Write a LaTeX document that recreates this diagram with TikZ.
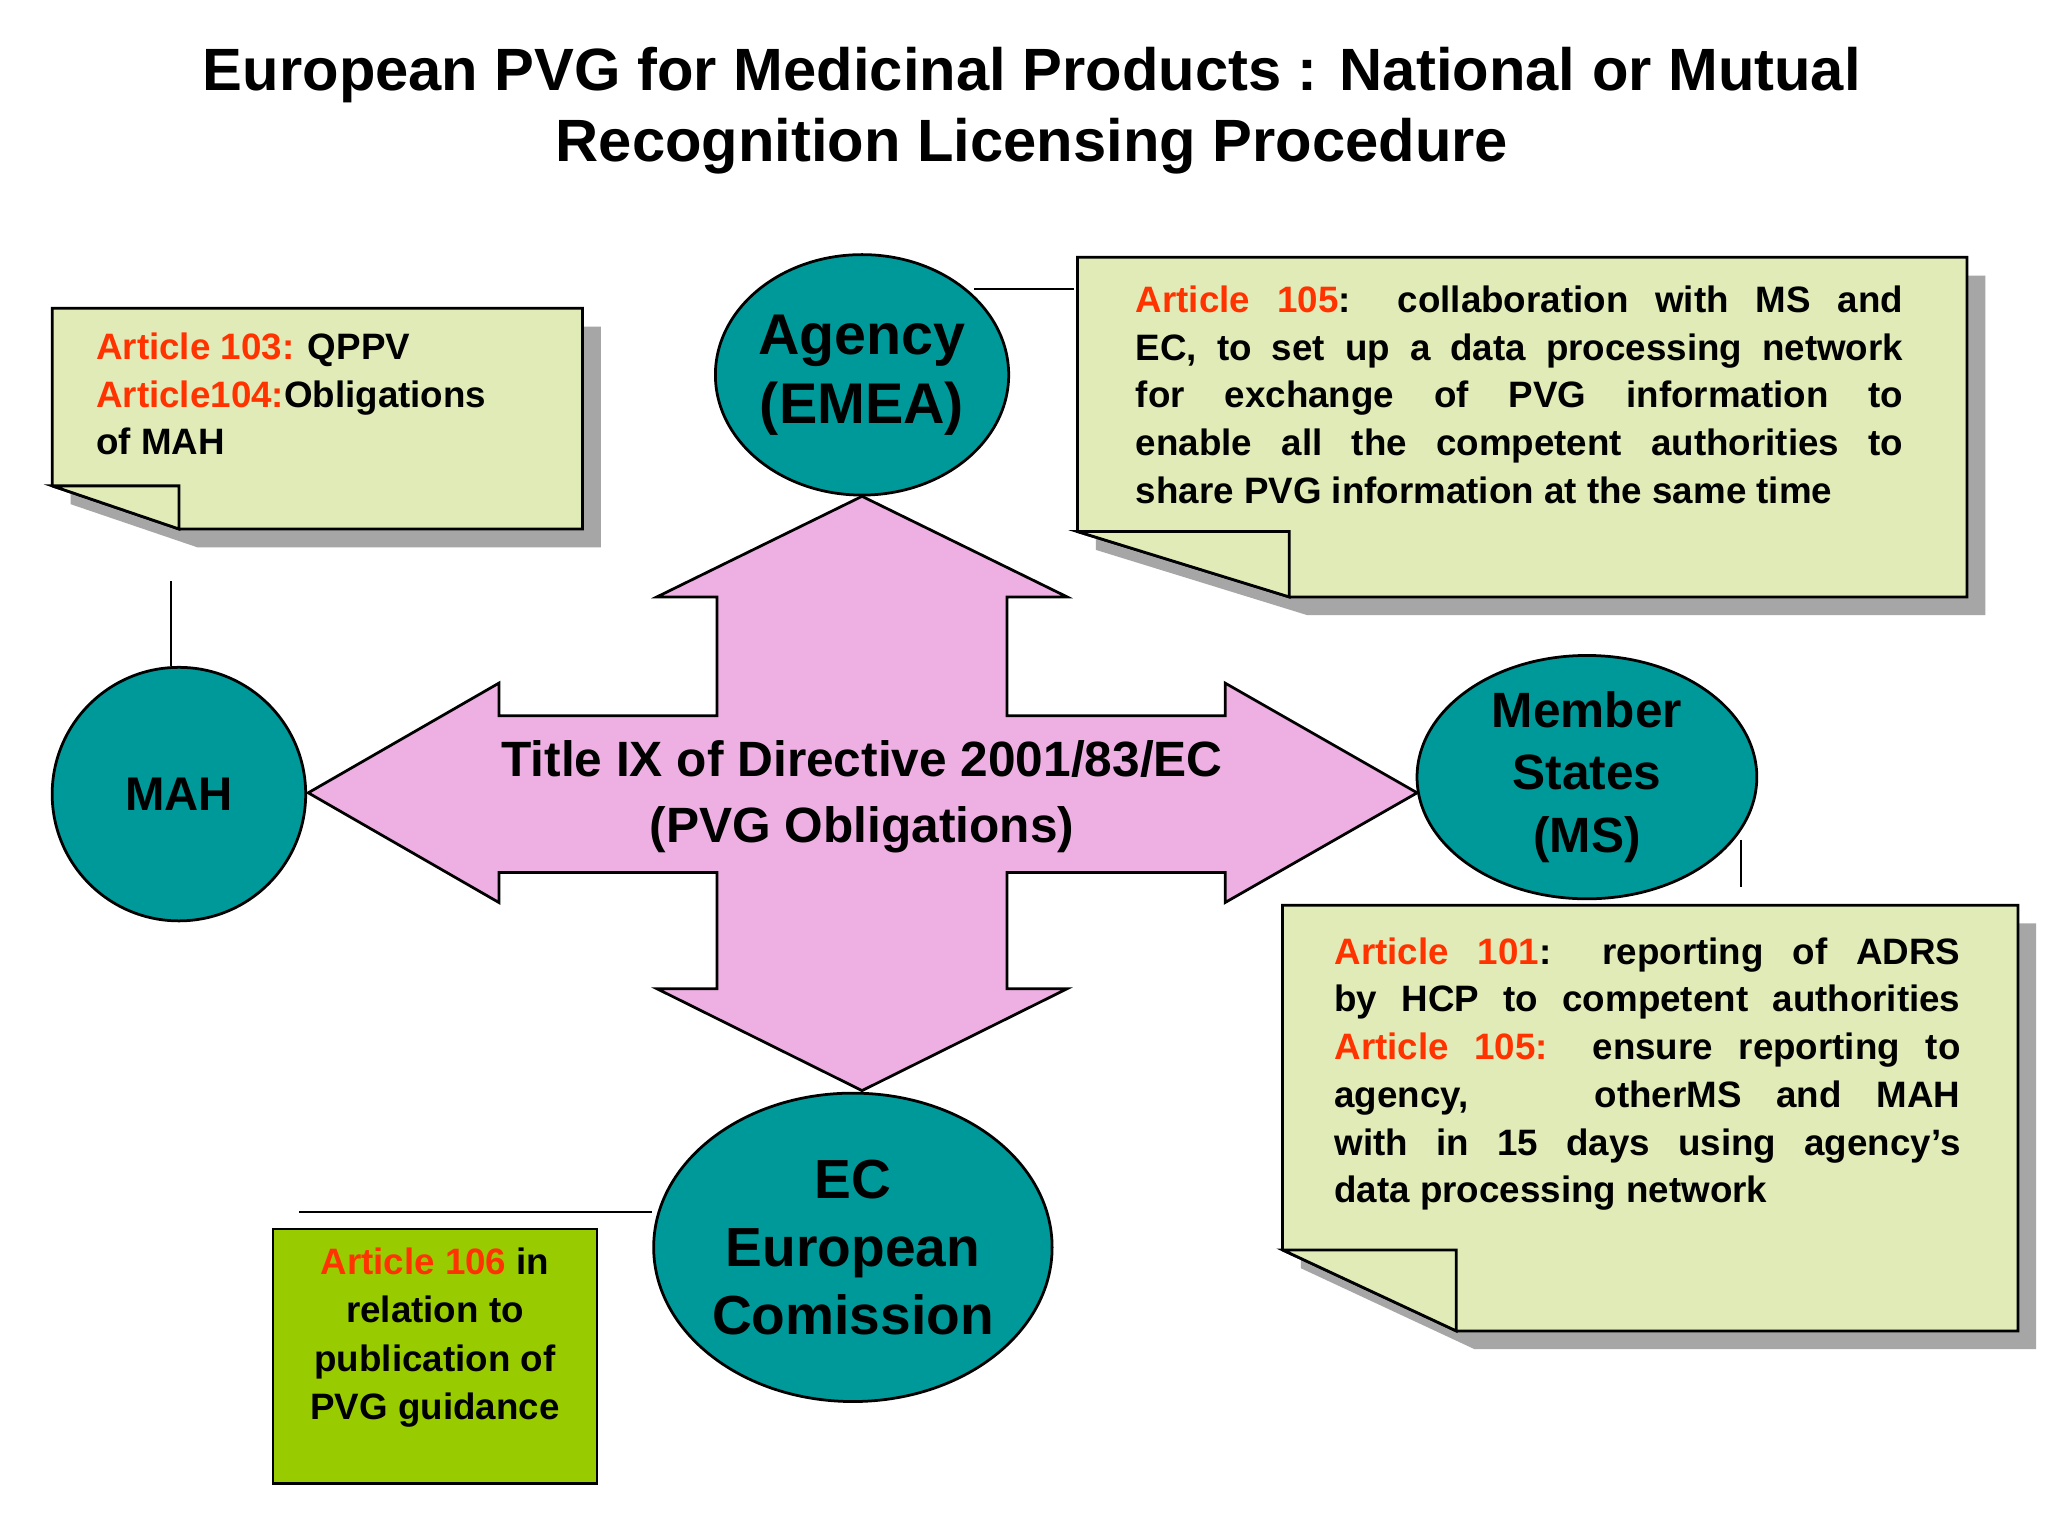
\documentclass[tikz,border=0pt]{standalone}
\usepackage{fontspec}
\setmainfont{Liberation Sans}
\usetikzlibrary{shapes.geometric}
\definecolor{teal1}{HTML}{009999}
\definecolor{pinkx}{HTML}{EEB0E2}
\definecolor{notefill}{HTML}{E0EBB8}
\definecolor{greenbox}{HTML}{99CC00}
\definecolor{redtxt}{HTML}{FF3300}
\newcommand{\art}[1]{\textcolor{redtxt}{#1}}
\tikzset{
  oval/.style={ellipse, draw=black, fill=teal1, line width=0.6pt, align=center, font=\bfseries},
  notebox/.style={fill=notefill, draw=black, line width=0.6pt},
  shadowbox/.style={fill=gray!70, draw=none},
  conn/.style={draw=black, line width=0.5pt},
  notetext/.style={anchor=north west, inner sep=0pt, font=\bfseries\fontsize{8}{10.4}\selectfont}
}
\begin{document}
\begin{tikzpicture}[x=0.01cm,y=-0.01cm]
\useasboundingbox (0,0) rectangle (1568,1176);
\fill[white] (0,0) rectangle (1568,1176);
% title
\node[font=\bfseries\fontsize{13}{15.4}\selectfont, align=center] (title) at (790,85) {European PVG for Medicinal Products : National or Mutual\\Recognition Licensing Procedure};
% cross arrow
\filldraw[fill=pinkx, draw=black, line width=0.6pt] (660,380) -- (817,457) -- (771,457) -- (771,548) -- (938,548) -- (938,523) -- (1085,607) -- (938,691) -- (938,668) -- (771,668) -- (771,757) -- (817,757) -- (660,835) -- (503,757) -- (549,757) -- (549,668) -- (382,668) -- (382,691) -- (236,607) -- (382,523) -- (382,548) -- (549,548) -- (549,457) -- (503,457) -- cycle;
\node[font=\bfseries\fontsize{10.8}{14.2}\selectfont, align=center] (title9) at (660,610) {Title IX of Directive 2001/83/EC\\(PVG Obligations)};
% ovals
\node[oval, inner sep=0pt, minimum width=2.2cm, minimum height=1.84cm, font=\bfseries\fontsize{12.5}{15}\selectfont] (agency) at (660,287) {Agency\\(EMEA)};
\node[oval, circle, minimum size=1.94cm, inner sep=0pt, font=\bfseries\fontsize{10.3}{12}\selectfont] (mah) at (137,608) {MAH};
\node[oval, minimum width=2.6cm, minimum height=1.7cm, inner sep=0pt, font=\bfseries\fontsize{10.8}{13.7}\selectfont] (ms) at (1215,595) {Member\\ States\\(MS)};
\node[oval, minimum width=2.86cm, minimum height=2.36cm, inner sep=0pt, font=\bfseries\fontsize{12}{14.8}\selectfont] (ec) at (653,955) {EC\\European\\Comission};
% note 1
\fill[shadowbox] (54,250) -- (460,250) -- (460,419) -- (151,419) -- (54,386) -- cycle;
\filldraw[notebox] (40,236) -- (446,236) -- (446,405) -- (137,405) -- (40,372) -- cycle;
\filldraw[notebox] (40,372) -- (137,372) -- (137,405) -- cycle;
\node[notetext, align=left] (n1) at (73,254) {\art{Article 103:} QPPV\\\art{Article104:}Obligations\\of MAH};
% note 2
\fill[shadowbox] (839,211) -- (1520,211) -- (1520,471) -- (1001,471) -- (839,421) -- cycle;
\filldraw[notebox] (825,197) -- (1506,197) -- (1506,457) -- (987,457) -- (825,407) -- cycle;
\filldraw[notebox] (825,407) -- (987,407) -- (987,457) -- cycle;
\node[notetext] (n2) at (869,218) {\parbox{5.87cm}{\fontsize{8}{10.4}\selectfont\bfseries \art{Article 105}: collaboration with MS and\linebreak EC, to set up a data processing network\linebreak for exchange of PVG information to\linebreak enable all the competent authorities to\linebreak share PVG information at the same time}};
% note 3
\fill[shadowbox] (996,707) -- (1559,707) -- (1559,1033) -- (1129,1033) -- (996,971) -- cycle;
\filldraw[notebox] (982,693) -- (1545,693) -- (1545,1019) -- (1115,1019) -- (982,957) -- cycle;
\filldraw[notebox] (982,957) -- (1115,957) -- (1115,1019) -- cycle;
\node[notetext] (n3) at (1021,717) {\parbox{4.79cm}{\fontsize{8}{10.4}\selectfont\bfseries \art{Article 101}: reporting of ADRS\linebreak by HCP to competent authorities\linebreak \art{Article 105:} ensure reporting to\linebreak agency, \hspace{1.2em} otherMS and MAH\linebreak with in 15 days using agency's\linebreak data processing network}};
% box 4
\filldraw[fill=greenbox, draw=black, line width=0.6pt] (209,941) rectangle (457,1136);
\node[font=\bfseries\fontsize{8}{10.5}\selectfont, align=center] (n4) at (333,1024) {\art{Article 106} in\\relation to\\publication of\\PVG guidance};
% connectors
\coordinate (c1) at (746,221); \coordinate (c2) at (822,221);
\draw[conn] (c1) -- (c2);
\coordinate (c3) at (131,445);
\draw[conn] (c3) -- (mah.north -| c3);
\coordinate (c4) at (1333,643); \coordinate (c5) at (1333,679);
\draw[conn] (c4) -- (c5);
\coordinate (c6) at (229,928);
\draw[conn] (c6) -- (ec.west |- c6);
\end{tikzpicture}
\end{document}
